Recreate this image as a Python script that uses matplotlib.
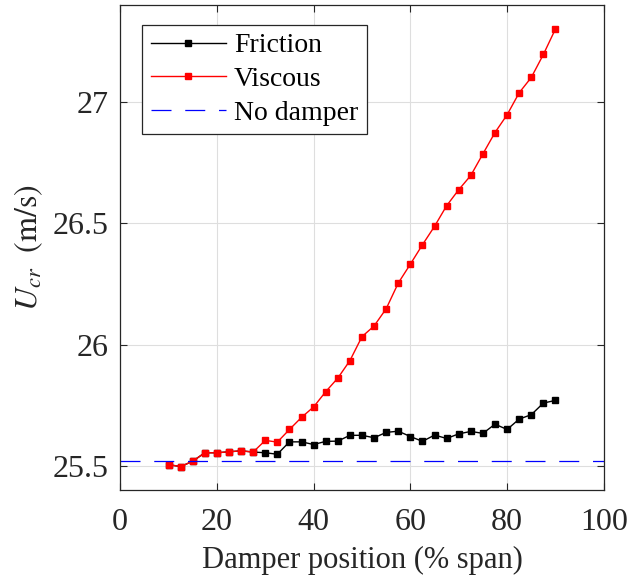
import numpy as np
import matplotlib.pyplot as plt

plt.rcParams['font.family'] = 'Liberation Serif'
plt.rcParams['mathtext.fontset'] = 'stix'

# Damper position (% span)
position = np.arange(10, 90.01, 2.5)

friction = [25.505, 25.497, 25.519, 25.554, 25.554, 25.558, 25.562, 25.557,
            25.554, 25.548, 25.599, 25.599, 25.588, 25.601, 25.602, 25.626,
            25.626, 25.616, 25.638, 25.643, 25.621, 25.601, 25.627, 25.613,
            25.632, 25.642, 25.634, 25.672, 25.650, 25.693, 25.711, 25.759,
            25.770]

viscous = [25.505, 25.497, 25.519, 25.554, 25.554, 25.558, 25.562, 25.557,
           25.605, 25.598, 25.650, 25.700, 25.743, 25.806, 25.862, 25.934,
           26.033, 26.077, 26.148, 26.254, 26.332, 26.412, 26.488, 26.573,
           26.639, 26.698, 26.787, 26.875, 26.948, 27.039, 27.102, 27.197,
           27.302]

no_damper = 25.519

fig = plt.figure(figsize=(6.29, 5.8), dpi=100)
ax = fig.add_axes([0.191, 0.155, 0.769, 0.836])

dark = (0.15, 0.15, 0.15)
ax.plot(position, friction, '-s', color='k', lw=1, ms=5, label='Friction')
ax.plot(position, viscous, '-s', color='r', lw=1, ms=5, label='Viscous')
ax.axhline(no_damper, color='b', ls=(0, (16, 11)), lw=0.9, label='No damper')

ax.set_xlim(0, 100)
ax.set_ylim(25.4, 27.4)
ax.set_xticks([0, 20, 40, 60, 80, 100])
ax.set_yticks([25.5, 26, 26.5, 27])
ax.set_yticklabels(['25.5', '26', '26.5', '27'])
ax.grid(True, color=(0.87, 0.87, 0.87), lw=0.8)
ax.set_axisbelow(True)
ax.tick_params(direction='in', top=True, right=True, labelsize=23,
               colors=dark, length=5, width=0.8)
ax.tick_params(axis='x', pad=13)
ax.tick_params(axis='y', pad=8)
for s in ax.spines.values():
    s.set_color(dark)
    s.set_linewidth(0.9)

ax.set_xlabel('Damper position (% span)', fontsize=22, color=dark, labelpad=6)
ax.set_ylabel(r'$U_{cr}\ \ \mathrm{(m/s)}$', fontsize=23, color=dark, labelpad=6)

leg = ax.legend(loc='upper left', bbox_to_anchor=(0.046, 0.96), fontsize=20,
                fancybox=False, edgecolor=dark, framealpha=1,
                handlelength=2.7, labelspacing=0.3, borderpad=0.3,
                handletextpad=0.3, borderaxespad=0)
leg.get_frame().set_linewidth(0.9)

fig.savefig('out.png', dpi=100)
